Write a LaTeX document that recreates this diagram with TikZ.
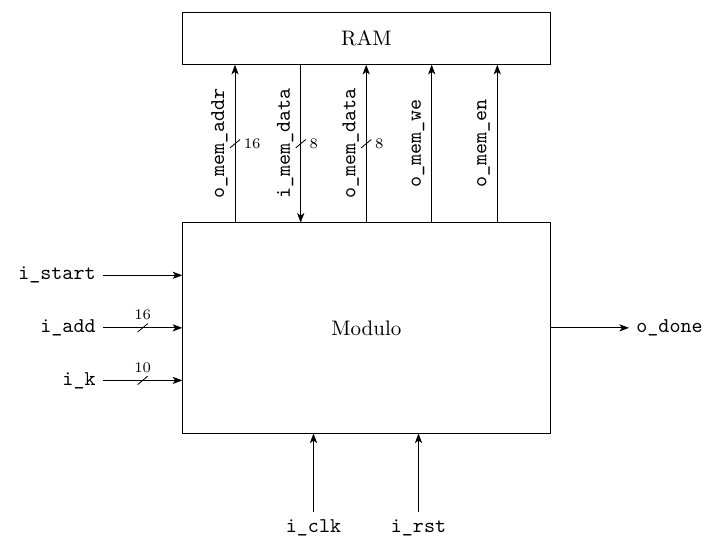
\documentclass[tikz,border=0pt]{standalone}
\usepackage{tikz}
\usetikzlibrary{calc,positioning,arrows.meta}
\tikzset{
	>={Stealth[length=4.6pt,width=3.4pt,inset=1.2pt]},
	block/.style={
		rectangle,
		draw=black,
		minimum width=174.8pt,
		text centered},
	line/.style={draw, ->},
	portlabel/.style={font=\ttfamily},
	toplabel/.style={midway, above, rotate=90, font=\ttfamily},
	busnum/.style={font=\scriptsize, inner sep=1pt},
}
\newcommand*\busslash[1]{
	\draw ([shift={(-2.4pt,-2pt)}]#1) -- ([shift={(2.4pt,2pt)}]#1);}

\begin{document}
\begin{tikzpicture}
[x=0.476pt, y=-0.476pt]
\useasboundingbox (0,0) rectangle (721,550);
\node[block, minimum height=24.75pt] (ram) at (366.35,38.3) {RAM};
\node[block, minimum height=100.1pt] (mod) at (366.35,327.85) {Modulo};

% RAM interface
\coordinate (addr) at (235,222.7);
\coordinate (idata) at (300.7,222.7);
\coordinate (odata) at (366.2,222.7);
\coordinate (we) at (431.7,222.7);
\coordinate (en) at (497.3,222.7);
\draw[line] (addr) -- (addr |- ram.south)
	node[toplabel] (laddr) {o\_mem\_addr} coordinate[midway] (baddr);
\draw[line] (idata |- ram.south) -- (idata)
	node[toplabel] (lidata) {i\_mem\_data} coordinate[midway] (bidata);
\draw[line] (odata) -- (odata |- ram.south)
	node[toplabel] (lodata) {o\_mem\_data} coordinate[midway] (bodata);
\draw[line] (we) -- (we |- ram.south) node[toplabel] (lwe) {o\_mem\_we};
\draw[line] (en) -- (en |- ram.south) node[toplabel] (len) {o\_mem\_en};
\busslash{baddr}
\busslash{bidata}
\busslash{bodata}
\node[busnum, right=3pt of baddr] (naddr) {16};
\node[busnum, right=3pt of bidata] (nidata) {8};
\node[busnum, right=3pt of bodata] (nodata) {8};

% inputs
\node[portlabel, left] (start) at (103,275.3) {i\_start};
\node[portlabel, left] (add) at (103,327.85) {i\_add};
\node[portlabel, left] (k) at (103,380.4) {i\_k};
\draw[line] (start) -- (start -| mod.west);
\draw[line] (add) -- (add -| mod.west) coordinate[midway] (badd);
\draw[line] (k) -- (k -| mod.west) coordinate[midway] (bk);
\busslash{badd}
\busslash{bk}
\node[busnum, above=2.5pt of badd] (nadd) {16};
\node[busnum, above=2.5pt of bk] (nk) {10};

% output
\node[portlabel, right] (done) at (629,327.85) {o\_done};
\draw[line] (mod) -- (done);

% clock and reset
\node[portlabel, below] (clk) at (313.5,512) {i\_clk};
\node[portlabel, below] (rst) at (418.5,512) {i\_rst};
\draw[line] (clk) -- (clk |- mod.south);
\draw[line] (rst) -- (rst |- mod.south);
\end{tikzpicture}
\end{document}
